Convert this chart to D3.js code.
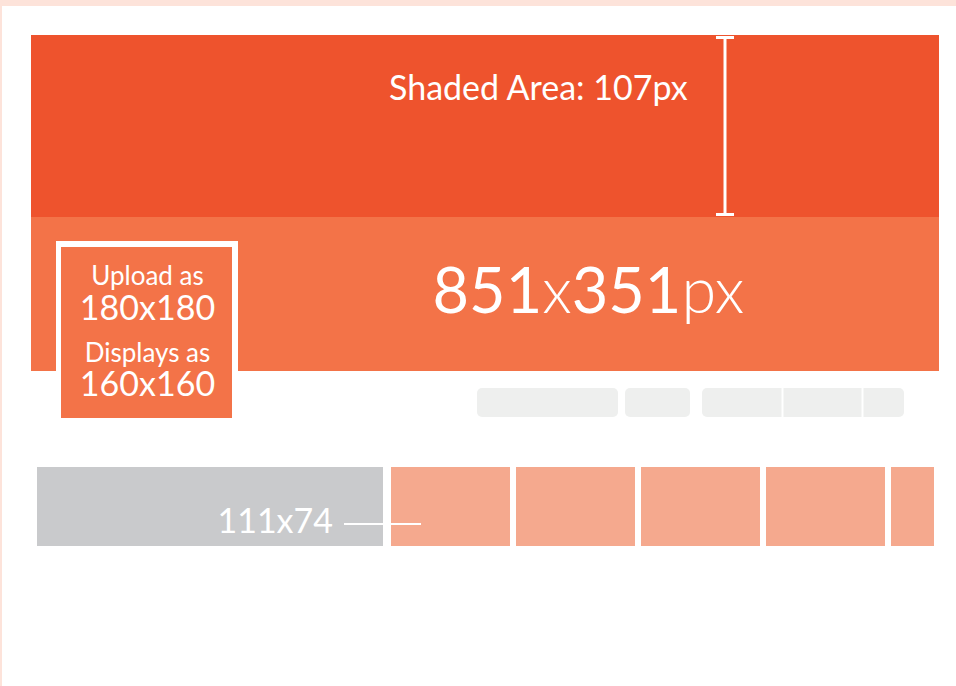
<!DOCTYPE html>
<html>
<head>
<meta charset="utf-8">
<script src="https://cdn.jsdelivr.net/npm/d3@7"></script>
<style>
  body { margin: 0; background: #fff; }
  svg { display: block; font-family: Lato, "Open Sans", sans-serif; }
</style>
</head>
<body>
<div id="chart"></div>
<script>
// values
var coverParts = ["851", "x", "351", "px"],
    coverWeights = [400, 300, 400, 300],
    shadedLabel = "Shaded Area: 107px",
    profileLines = ["Upload as", "180x180", "Displays as", "160x160"],
    profileSizes = [26, 34, 26, 34],
    thumbLabel = "111x74",
    thumbIds = [0, 1, 2, 3, 4],
    buttonGroups = ["a", "b", "c"],
    buttonWidths = [141, 65, 202],
    buttonDividers = [80, 160]; // inside group c

var width = 956,
    height = 686;

var svg = d3.select("#chart").append("svg")
    .attr("width", width)
    .attr("height", height);

// page frame
svg.append("rect").attr("width", width).attr("height", height).attr("fill", "#fde3da");
svg.append("rect").attr("x", 2).attr("y", 6).attr("width", width - 2).attr("height", height - 6).attr("fill", "#fff");

// cover photo area
var x = d3.scaleLinear().domain([0, 1]).range([31, 939]);
var y = d3.scaleOrdinal().domain(["top", "shade", "bottom"]).range([35, 217, 371]);

svg.append("rect")
    .attr("x", x(0)).attr("y", y("top"))
    .attr("width", x(1) - x(0)).attr("height", y("shade") - y("top"))
    .attr("fill", "#ee532d");

svg.append("rect")
    .attr("x", x(0)).attr("y", y("shade"))
    .attr("width", x(1) - x(0)).attr("height", y("bottom") - y("shade"))
    .attr("fill", "#f37348");

// measuring bar for the shaded area
var bx = 725;
var beam = svg.append("g").attr("stroke", "#fff").attr("stroke-width", 3);
beam.append("line").attr("x1", bx).attr("x2", bx).attr("y1", y("top") + 2).attr("y2", y("shade") - 2);
[y("top") + 2.5, y("shade") - 2.5].forEach(function (yy) {
  beam.append("line").attr("x1", bx - 9).attr("x2", bx + 9).attr("y1", yy).attr("y2", yy);
});

svg.append("text")
    .attr("x", 389).attr("y", 100)
    .attr("fill", "#fff")
    .attr("font-size", 34)
    .text(shadedLabel);

// profile picture box
var px0 = 56, px1 = 238;
svg.append("rect")
    .attr("x", px0).attr("y", 241)
    .attr("width", px1 - px0).attr("height", 177)
    .attr("fill", "#fff");
svg.append("rect")
    .attr("x", px0 + 5).attr("y", 247)
    .attr("width", px1 - px0 - 11).attr("height", 171)
    .attr("fill", "#f37348");

svg.append("g").selectAll("text")
  .data(profileLines)
  .enter().append("text")
    .attr("x", (px0 + 5 + px1 - 6) / 2 + 1)
    .attr("y", function (d, i) { return [285, 320, 362, 396][i]; })
    .attr("text-anchor", "middle")
    .attr("fill", "#fff")
    .attr("font-size", function (d, i) { return profileSizes[i]; })
    .text(function (d) { return d; });

// cover size label
var coverText = svg.append("text")
    .attr("x", (px1 + x(1)) / 2).attr("y", 313)
    .attr("text-anchor", "middle")
    .attr("fill", "#fff")
    .attr("font-size", 63);
coverText.selectAll("tspan")
  .data(coverParts)
  .enter().append("tspan")
    .attr("font-weight", function (d, i) { return coverWeights[i]; })
    .text(function (d) { return d; });

// button row
var bxStart = 477, bGap = [0, 7, 12];
var bPos = [];
buttonWidths.reduce(function (acc, w, i) { bPos.push(acc + bGap[i]); return acc + bGap[i] + w; }, bxStart);
var btn = svg.append("g");
btn.selectAll("rect")
  .data(buttonGroups)
  .enter().append("rect")
    .attr("x", function (d, i) { return bPos[i]; })
    .attr("y", 388)
    .attr("width", function (d, i) { return buttonWidths[i]; })
    .attr("height", 29)
    .attr("rx", 5)
    .attr("fill", "#eeefee");
btn.selectAll("line")
  .data(buttonDividers)
  .enter().append("line")
    .attr("x1", function (d) { return bPos[2] + d + 0.5; })
    .attr("x2", function (d) { return bPos[2] + d + 0.5; })
    .attr("y1", 388).attr("y2", 417)
    .attr("stroke", "#fff").attr("stroke-width", 2);

// thumbnails
svg.append("defs").append("clipPath").attr("id", "clip")
  .append("rect").attr("x", 0).attr("y", 0).attr("width", 934).attr("height", height);

svg.append("rect")
    .attr("x", 37).attr("y", 467)
    .attr("width", 346).attr("height", 79)
    .attr("fill", "#c9cacc");

var tx = d3.scaleBand().domain(thumbIds).range([391, 1010]).paddingInner(6 / 125);
svg.append("g").attr("clip-path", "url(#clip)")
  .selectAll("rect")
  .data(thumbIds)
  .enter().append("rect")
    .attr("x", function (d) { return tx(d); })
    .attr("y", 467)
    .attr("width", tx.bandwidth())
    .attr("height", 79)
    .attr("fill", "#f5a98e");

svg.append("text")
    .attr("x", 333).attr("y", 533)
    .attr("text-anchor", "end")
    .attr("fill", "#fff")
    .attr("font-size", 34)
    .text(thumbLabel);

svg.append("line")
    .attr("x1", 344).attr("x2", 421)
    .attr("y1", 524).attr("y2", 524)
    .attr("stroke", "#fff").attr("stroke-width", 2);
</script>
</body>
</html>
